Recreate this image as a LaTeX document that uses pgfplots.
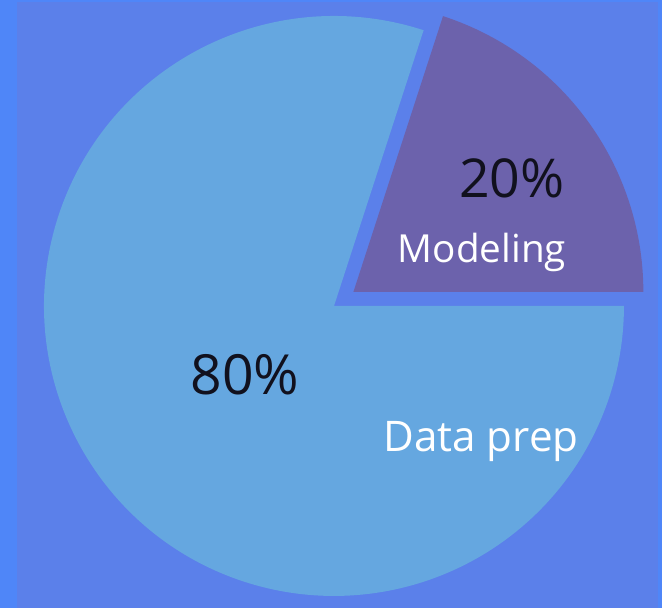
\documentclass[border=0pt]{standalone}
\usepackage{pgfplots}
\usepackage{pgfplotstable}
\pgfplotsset{compat=1.18}
\usetikzlibrary{calc}
\usepackage{fontspec}
\setmainfont{Open Sans}
\definecolor{bgmain}{RGB}{91,128,234}
\definecolor{bgstrip}{RGB}{79,134,248}
\definecolor{slicebig}{RGB}{101,167,224}
\definecolor{slicesmall}{RGB}{108,98,172}
\definecolor{darktxt}{RGB}{17,17,30}
\pgfplotstableread{
label value
Modeling 20
DataPrep 80
}\piedata
\begin{document}
\begin{tikzpicture}
\pgfplotstablegetelem{0}{value}\of\piedata \let\vA\pgfplotsretval
\pgfplotstablegetelem{1}{value}\of\piedata \let\vB\pgfplotsretval
\pgfmathsetmacro{\aA}{360*\vA/(\vA+\vB)}
\pgfmathsetmacro{\midA}{\aA/2}
\begin{axis}[
  x=0.02cm, y=0.02cm,
  xmin=0, xmax=662, ymin=0, ymax=608,
  hide axis, clip=false,
]
\coordinate (BL) at (axis cs:0,0);
\coordinate (TR) at (axis cs:662,608);
% background
\fill[bgstrip] (axis cs:0,0) rectangle (axis cs:662,608);
\fill[bgmain] (axis cs:17,0) rectangle (axis cs:658,606);
% big slice (Data prep)
\fill[slicebig] (axis cs:334,302) -- ++(\aA:5.8cm) arc[start angle=\aA, end angle=360, radius=5.8cm] -- cycle;
% exploded small slice (Modeling)
\fill[slicesmall] ($(axis cs:334,302)+(\midA:0.48cm)$) -- ++(0:5.8cm) arc[start angle=0, end angle=\aA, radius=5.8cm] -- cycle;
% labels
\node[text=darktxt, font=\fontsize{30.5}{36}\selectfont] at (axis cs:512,430) {\vA\%};
\node[text=white, font=\fontsize{22}{26}\selectfont, anchor=base] at (axis cs:482,345) {Modeling};
\node[text=darktxt, font=\fontsize{31.5}{38}\selectfont] at (axis cs:245,233) {\vB\%};
\node[text=white, font=\fontsize{24}{28}\selectfont, anchor=base] at (axis cs:481,156) {Data prep};
\end{axis}
\pgfresetboundingbox
\path[use as bounding box] (BL) rectangle (TR);
\end{tikzpicture}
\end{document}
